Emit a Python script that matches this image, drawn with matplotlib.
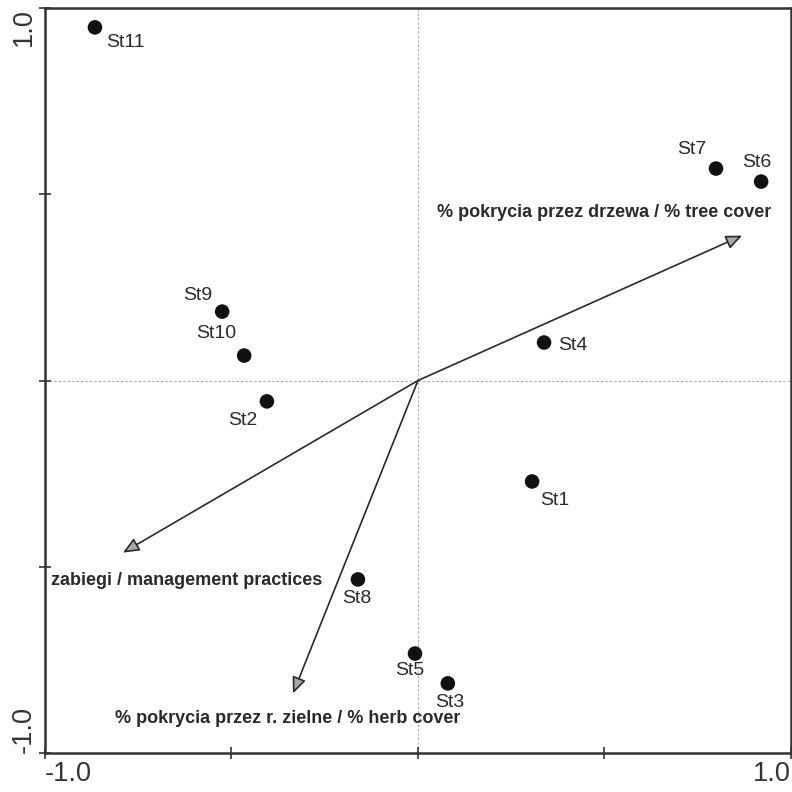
import matplotlib
matplotlib.use('Agg')
from matplotlib import pyplot as plt

plt.rcParams['font.family'] = ['Liberation Sans', 'DejaVu Sans']

# Site scores (axis 1, axis 2)
sites = ['St1', 'St2', 'St3', 'St4', 'St5', 'St6', 'St7', 'St8', 'St9', 'St10', 'St11']
site_x = [0.306, -0.405, 0.080, 0.338, -0.008, 0.920, 0.799, -0.161, -0.525, -0.466, -0.866]
site_y = [-0.271, -0.056, -0.813, 0.102, -0.733, 0.534, 0.569, -0.534, 0.185, 0.067, 0.948]

# Environmental variables (arrow tips)
env_names = ['% pokrycia przez drzewa / % tree cover',
             'zabiegi / management practices',
             '% pokrycia przez r. zielne / % herb cover']
env_x = [0.869, -0.791, -0.335]
env_y = [0.389, -0.462, -0.840]

# label offsets in pixels for each site
site_offsets = {
    'St1': (23, -19), 'St2': (-24, -19), 'St3': (2, -19), 'St4': (29, -3),
    'St5': (-5, -17), 'St6': (-4, 19), 'St7': (-24, 19), 'St8': (-1, -19),
    'St9': (-24, 16), 'St10': (-28, 22), 'St11': (30, -15),
}
# where the variable names go (left edge, vertical centre) in data units
env_label_pos = [(0.051, 0.451), (-0.984, -0.537), (-0.812, -0.907)]

fig = plt.figure(figsize=(7.92, 7.92), dpi=100)
ax = fig.add_axes([0.0568, 0.0492, 0.9419, 0.9407])
ax.set_xlim(-1, 1)
ax.set_ylim(-1, 1)

# dotted cross through the origin
ax.axhline(0, color='#aaaaaa', lw=0.8, ls=(0, (2, 2)), zorder=1)
ax.axvline(0, color='#aaaaaa', lw=0.8, ls=(0, (2, 2)), zorder=1)

# environmental arrows
for name, x, y, (lx, ly) in zip(env_names, env_x, env_y, env_label_pos):
    ax.annotate('', xy=(x, y), xytext=(0, 0),
                arrowprops=dict(arrowstyle='-|>,head_length=0.7,head_width=0.3',
                                fc='#a8a8a8', ec='#2a2a2a',
                                lw=1.2, mutation_scale=14, shrinkA=0, shrinkB=0),
                zorder=2)
    ax.text(lx, ly, name, fontsize=13, fontweight='bold', color='#2a2a2a',
            ha='left', va='center')

# sites
ax.scatter(site_x, site_y, s=110, c='#111111', edgecolors='none', zorder=3)
for name, x, y in zip(sites, site_x, site_y):
    dx, dy = site_offsets[name]
    ax.annotate(name, (x, y), xytext=(dx, dy), textcoords='offset pixels',
                fontsize=14, color='#2a2a2a', ha='center', va='center')

# frame and ticks
for sp in ax.spines.values():
    sp.set_linewidth(1.8)
    sp.set_color('#333333')
ticks = [-1, -0.5, 0, 0.5, 1]
ax.set_xticks(ticks)
ax.set_yticks(ticks)
ax.set_xticklabels(['-1.0', '', '', '', '1.0'])
ax.set_yticklabels(['-1.0', '', '', '', '1.0'], rotation=90)
ax.tick_params(direction='inout', length=8, width=1.2, color='#333333',
               labelsize=19.5, labelcolor='#333333', pad=2)
xl = ax.get_xticklabels()
xl[0].set_ha('left')
xl[-1].set_ha('right')
yl = ax.get_yticklabels()
yl[0].set_va('bottom')
yl[-1].set_va('top')

fig.savefig('out.png', dpi=100)
